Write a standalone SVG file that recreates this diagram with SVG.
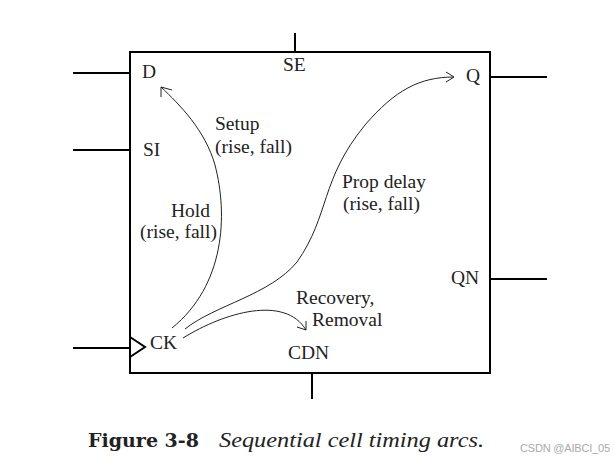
<svg xmlns="http://www.w3.org/2000/svg" width="615" height="459" viewBox="0 0 615 459">
<style>
.t{font-family:"Liberation Serif","Times New Roman",serif;font-size:19.5px;fill:#222}
.w{fill:none;stroke:#000;stroke-width:2}
.a{fill:none;stroke:#222;stroke-width:1}
.h{fill:none;stroke:#222;stroke-width:1}
</style>
<rect width="615" height="459" fill="#fff"/>
<g id="cell">
<rect class="w" x="130" y="52" width="360" height="321"/>
<path class="w" d="M130 337L145 347L130 357"/>
</g>
<g id="connectors">
<path class="a" d="M172 328C225 285 228 215 215 165C205 130 180 105 161 87"/>
<path class="h" d="M161 97L161 87L172 90"/>
<path class="a" d="M185 329C215 305 270 295 297 262C330 215 320 180 365 125C395 90 420 77 454 77"/>
<path class="h" d="M446 72L454 77L446 82"/>
<path class="a" d="M183 338C225 312 285 295 306 330"/>
<path class="h" d="M297 327L306 330L306 321"/>
</g>
<g id="pin-D"><path class="w" d="M73 73H130"/><text class="t" x="142" y="78">D</text></g>
<g id="pin-SI"><path class="w" d="M73 150H130"/><text class="t" x="143" y="156">SI</text></g>
<g id="pin-SE"><path class="w" d="M295 33V52"/><text class="t" x="283" y="71">SE</text></g>
<g id="pin-CK"><path class="w" d="M73 348H130"/><text class="t" x="150" y="349">CK</text></g>
<g id="pin-CDN"><path class="w" d="M312 373V399"/><text class="t" x="288" y="359">CDN</text></g>
<g id="pin-Q"><path class="w" d="M490 77H547"/><text class="t" x="466" y="82">Q</text></g>
<g id="pin-QN"><path class="w" d="M490 279H547"/><text class="t" x="451" y="284">QN</text></g>
<g id="label-setup"><text class="t" x="215" y="130">Setup</text><text class="t" x="215" y="153">(rise, fall)</text></g>
<g id="label-hold"><text class="t" x="171" y="217">Hold</text><text class="t" x="140" y="238">(rise, fall)</text></g>
<g id="label-prop"><text class="t" x="342" y="188">Prop delay</text><text class="t" x="343" y="210">(rise, fall)</text></g>
<g id="label-recovery"><text class="t" x="296" y="304">Recovery,</text><text class="t" x="312" y="326">Removal</text></g>
<text x="88" y="447" font-family="'DejaVu Serif',serif" font-weight="bold" font-size="18" fill="#222" textLength="111" lengthAdjust="spacingAndGlyphs">Figure 3-8</text>
<text x="219" y="447" font-family="'Liberation Serif',serif" font-style="italic" font-size="22" fill="#222" textLength="265" lengthAdjust="spacingAndGlyphs">Sequential cell timing arcs.</text>
<text x="520" y="452" font-family="'Liberation Sans',sans-serif" font-size="11" fill="#aaa" textLength="90" lengthAdjust="spacing">CSDN @AIBCI_05</text>
</svg>
